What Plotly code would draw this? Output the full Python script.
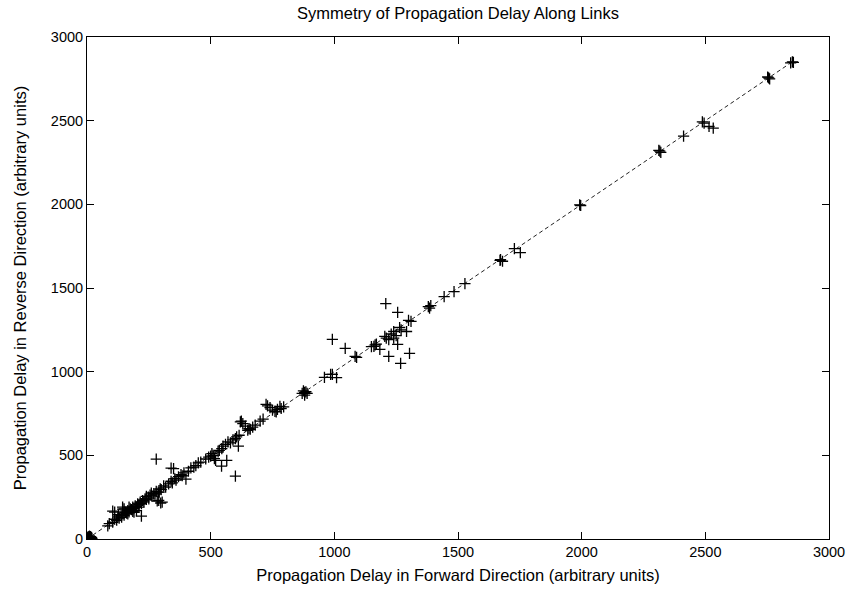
import plotly.graph_objects as go

# Measured one-way propagation delays per link (forward, reverse), arbitrary units
forward = [
    0, 3, 8, 12, 5, 15, 2, 10, 18, 6, 14, 20,
    84, 90, 104, 112, 120, 104, 144, 125, 130, 138, 145, 150, 155, 160, 165, 170,
    175, 180, 185, 190, 195, 200, 205, 210, 215, 220, 220, 225, 230, 235, 240, 248,
    255, 262, 270, 275, 280, 288, 292, 296, 300, 304, 290, 298, 284, 310, 318,
    150, 165, 190, 200, 140, 128, 112, 144, 170, 185, 210, 240, 250, 260, 280,
    330, 340, 345, 340, 350, 355, 360, 370, 380, 385, 392, 400, 410, 420, 432,
    440, 450, 460, 480, 492, 500, 505, 510, 515, 520, 530, 535, 544, 545, 550,
    560, 565, 570, 580, 590, 600, 600, 605, 612, 615, 620, 624, 630, 640, 650,
    655, 660, 670, 680, 700, 712, 724, 730, 740, 750, 760, 765, 770, 780, 785,
    795, 870, 875, 880, 885, 890, 880, 960, 985, 992, 1009, 992, 1044, 1084,
    1090, 1150, 1160, 1165, 1170, 1184, 1204, 1208, 1220, 1220, 1210, 1230, 1240,
    1240, 1250, 1256, 1256, 1264, 1268, 1270, 1292, 1300, 1304, 1310, 1380, 1385,
    1390, 1444, 1484, 1528, 1670, 1672, 1680, 1728, 1752, 1992, 1996, 2316, 2320,
    2312, 2412, 2488, 2495, 2515, 2532, 2752, 2760, 2756, 2852, 2845, 2856,
]
reverse = [
    0, 8, 2, 12, 15, 5, 3, 18, 10, 6, 14, 4,
    79, 92, 100, 118, 112, 167, 179, 132, 125, 140, 150, 142, 160, 155, 170, 162,
    180, 175, 190, 185, 198, 192, 210, 205, 220, 212, 137, 230, 222, 240, 236, 250,
    262, 258, 272, 268, 285, 280, 280, 300, 295, 220, 230, 215, 227, 318, 310,
    180, 150, 160, 170, 130, 145, 161, 191, 190, 165, 190, 255, 240, 275, 477,
    330, 345, 335, 423, 420, 360, 352, 372, 385, 378, 395, 358, 405, 425, 429,
    438, 455, 460, 478, 489, 495, 510, 500, 480, 470, 520, 530, 435, 540, 555,
    566, 470, 580, 575, 592, 376, 600, 610, 555, 620, 700, 704, 690, 675, 650,
    660, 656, 668, 680, 705, 716, 805, 795, 785, 770, 763, 760, 775, 793, 780,
    790, 870, 885, 876, 880, 870, 860, 966, 984, 984, 964, 1193, 1139, 1091,
    1085, 1150, 1151, 1160, 1165, 1133, 1211, 1407, 1192, 1091, 1200, 1225, 1240,
    1200, 1215, 1354, 1163, 1264, 1050, 1250, 1240, 1306, 1109, 1300, 1389, 1380,
    1395, 1449, 1478, 1526, 1665, 1669, 1660, 1735, 1711, 1997, 1993, 2318, 2310,
    2322, 2408, 2493, 2485, 2465, 2455, 2761, 2750, 2756, 2851, 2845, 2848,
]

# Reference line of perfect symmetry (reverse == forward)
sym_line = [0, 2860]

tick_vals = [0, 500, 1000, 1500, 2000, 2500, 3000]
tick_text = ["0", "500", "1000", "1500", "2000", "2500", "3000"]

FONT = "Liberation Sans, Arial, sans-serif"

fig = go.Figure()

fig.add_trace(go.Scatter(
    x=sym_line, y=sym_line, mode="lines",
    line=dict(color="#222222", width=1, dash="4px,3px"),
    showlegend=False, hoverinfo="skip",
))

fig.add_trace(go.Scatter(
    x=forward, y=reverse, mode="markers",
    marker=dict(symbol="cross-thin", size=8, color="black",
                line=dict(color="black", width=1.3)),
    showlegend=False,
))

axis_common = dict(
    range=[0, 3000], tickvals=tick_vals, ticktext=tick_text,
    ticks="inside", ticklen=7, tickwidth=1, tickcolor="black",
    showline=True, linecolor="black", linewidth=1, mirror="allticks",
    showgrid=False, zeroline=False,
    tickfont=dict(family=FONT, size=14.5, color="black"),
)

fig.update_layout(
    width=857, height=594,
    margin=dict(l=87, r=20, t=37, b=54),
    plot_bgcolor="white", paper_bgcolor="white",
    font=dict(family=FONT, color="black"),
    title=dict(
        text="Symmetry of Propagation Delay Along Links",
        x=0.5, xanchor="center", xref="paper",
        y=0.978, yref="container", yanchor="middle",
        font=dict(size=16.5, color="black"),
    ),
    xaxis=dict(
        **axis_common,
        title=dict(text="Propagation Delay in Forward Direction (arbitrary units)",
                   font=dict(size=16.5), standoff=10),
    ),
    yaxis=dict(
        **axis_common,
        title=dict(text="Propagation Delay in Reverse Direction (arbitrary units)",
                   font=dict(size=16.5), standoff=20),
    ),
)

fig.write_html("out.html")
